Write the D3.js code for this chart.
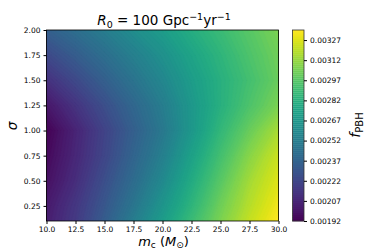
<!DOCTYPE html>
<html>
<head>
<meta charset="utf-8">
<script src="https://cdn.jsdelivr.net/npm/d3@7"></script>
<style>
body { margin: 0; background: #fff; }
svg text { font-family: "DejaVu Sans", sans-serif; fill: #000; }
</style>
</head>
<body>
<svg id="chart" width="374" height="249"></svg>
<script>
const mcValues = [10, 12.5, 15, 17.5, 20, 22.5, 25, 27.5, 30];
const sigmaValues = [0.1, 0.25, 0.5, 0.75, 1.0, 1.25, 1.5, 1.75, 2.0];
// one row per sigma (bottom to top), one column per m_c
const fPBH = [
    [0.002034, 0.002162, 0.002333, 0.002519, 0.002704, 0.002889, 0.003060, 0.003217, 0.003345],
    [0.002020, 0.002148, 0.002305, 0.002476, 0.002661, 0.002846, 0.003032, 0.003188, 0.003317],
    [0.001977, 0.002105, 0.002262, 0.002419, 0.002590, 0.002789, 0.002975, 0.003146, 0.003274],
    [0.001949, 0.002077, 0.002219, 0.002376, 0.002533, 0.002732, 0.002918, 0.003089, 0.003231],
    [0.001925, 0.002063, 0.002205, 0.002348, 0.002490, 0.002675, 0.002861, 0.003017, 0.003160],
    [0.002006, 0.002134, 0.002262, 0.002390, 0.002519, 0.002675, 0.002818, 0.002946, 0.003060],
    [0.002120, 0.002234, 0.002348, 0.002462, 0.002576, 0.002704, 0.002818, 0.002918, 0.003017],
    [0.002234, 0.002333, 0.002433, 0.002533, 0.002633, 0.002747, 0.002846, 0.002946, 0.003032],
    [0.002348, 0.002433, 0.002519, 0.002618, 0.002704, 0.002804, 0.002889, 0.002975, 0.003060]
];
const mcTicks = [10, 12.5, 15, 17.5, 20, 22.5, 25, 27.5, 30];
const sigmaTicks = [0.25, 0.5, 0.75, 1.0, 1.25, 1.5, 1.75, 2.0];
const cbarTicks = [0.00192, 0.00207, 0.00222, 0.00237, 0.00252, 0.00267, 0.00282, 0.00297, 0.00312, 0.00327];
const fMin = 0.00192, fMax = 0.003345, levelStep = 0.000015;

const svg = d3.select('#chart');

const x = d3.scaleLinear().domain([10, 30]).range([46.5, 278.5]);
const y = d3.scaleLinear().domain([0.1, 2.0]).range([221, 30]);
const color = v => d3.interpolateViridis((v - fMin) / (fMax - fMin));

// contour levels like contourf
const levels = d3.range(0, Math.round((fMax - fMin) / levelStep)).map(i => fMin + i * levelStep);

// grid index -> data value (grid is not evenly spaced in sigma)
const colToMc = d3.scaleLinear().domain(d3.range(mcValues.length)).range(mcValues).clamp(true);
const rowToSigma = d3.scaleLinear().domain(d3.range(sigmaValues.length)).range(sigmaValues).clamp(true);

const contours = d3.contours()
    .size([mcValues.length, sigmaValues.length])
    .thresholds(levels)(fPBH.flat());

const path = d3.geoPath(d3.geoTransform({
    point: function(cx, cy) {
        this.stream.point(x(colToMc(cx - 0.5)), y(rowToSigma(cy - 0.5)));
    }
}));

svg.append('clipPath').attr('id', 'plot-clip')
    .append('rect')
    .attr('x', x(10)).attr('y', y(2.0))
    .attr('width', x(30) - x(10)).attr('height', y(0.1) - y(2.0));

svg.append('g')
    .attr('clip-path', 'url(#plot-clip)')
    .selectAll('path')
    .data(contours)
    .join('path')
    .attr('d', path)
    .attr('fill', d => color(d.value + levelStep / 2))
    .attr('stroke', d => color(d.value + levelStep / 2))
    .attr('stroke-width', 0.4);

// axes
const xAxis = svg.append('g')
    .attr('transform', `translate(0,${y(0.1)})`)
    .call(d3.axisBottom(x).tickValues(mcTicks).tickFormat(d3.format('.1f')).tickSize(3).tickSizeOuter(0));
const yAxis = svg.append('g')
    .attr('transform', `translate(${x(10)},0)`)
    .call(d3.axisLeft(y).tickValues(sigmaTicks).tickFormat(d3.format('.2f')).tickSize(3).tickSizeOuter(0));

[xAxis, yAxis].forEach(a => {
    a.select('.domain').remove();
    a.selectAll('text').attr('font-size', 7.5).attr('fill', '#000');
});

svg.append('rect')
    .attr('x', x(10)).attr('y', y(2.0))
    .attr('width', x(30) - x(10)).attr('height', y(0.1) - y(2.0))
    .attr('fill', 'none').attr('stroke', '#000').attr('stroke-width', 0.8);

// colorbar
const cy = d3.scaleLinear().domain([fMin, fMax]).range([221, 30]);
const cbX = 292.5, cbW = 11.5;
svg.append('g')
    .selectAll('rect')
    .data(levels)
    .join('rect')
    .attr('x', cbX)
    .attr('width', cbW)
    .attr('y', d => cy(d + levelStep))
    .attr('height', d => cy(d) - cy(d + levelStep) + 0.3)
    .attr('fill', d => color(d + levelStep / 2));
svg.append('rect')
    .attr('x', cbX).attr('y', cy(fMax))
    .attr('width', cbW).attr('height', cy(fMin) - cy(fMax))
    .attr('fill', 'none').attr('stroke', '#333').attr('stroke-width', 0.8);
const cAxis = svg.append('g')
    .attr('transform', `translate(${cbX + cbW},0)`)
    .call(d3.axisRight(cy).tickValues(cbarTicks).tickFormat(d3.format('.5f')).tickSize(3).tickSizeOuter(0));
cAxis.select('.domain').remove();
cAxis.selectAll('text').attr('font-size', 7.5).attr('fill', '#000');

// title
const title = svg.append('text')
    .attr('x', 164).attr('y', 25)
    .attr('text-anchor', 'middle')
    .attr('font-size', 13.5);
title.append('tspan').attr('font-style', 'italic').text('R');
title.append('tspan').attr('font-size', 9.5).attr('dy', 2.5).text('0');
title.append('tspan').attr('dy', -2.5).text(' = 100 Gpc');
title.append('tspan').attr('font-size', 9.5).attr('dy', -5).text('\u22121');
title.append('tspan').attr('dy', 5).text('yr');
title.append('tspan').attr('font-size', 9.5).attr('dy', -5).text('\u22121');

// x label
const xLabel = svg.append('text')
    .attr('x', 163.5).attr('y', 246)
    .attr('text-anchor', 'middle')
    .attr('font-size', 13);
xLabel.append('tspan').attr('font-style', 'italic').text('m');
xLabel.append('tspan').attr('font-size', 9).attr('dy', 2).text('c');
xLabel.append('tspan').attr('dy', -2).text(' (');
xLabel.append('tspan').attr('font-style', 'italic').text('M');
xLabel.append('tspan').attr('font-size', 9).attr('dy', 2).text('\u2299');
xLabel.append('tspan').attr('dy', -2).text(')');

// y label
svg.append('text')
    .attr('transform', 'translate(17,126) rotate(-90)')
    .attr('text-anchor', 'middle')
    .attr('font-size', 13.5)
    .attr('font-style', 'italic')
    .text('\u03c3');

// colorbar label
const cLabel = svg.append('text')
    .attr('transform', 'translate(360,125) rotate(-90)')
    .attr('text-anchor', 'middle')
    .attr('font-size', 14);
cLabel.append('tspan').attr('font-style', 'italic').text('f');
cLabel.append('tspan').attr('font-size', 10).attr('dy', 2.5).text('PBH');
</script>
</body>
</html>
